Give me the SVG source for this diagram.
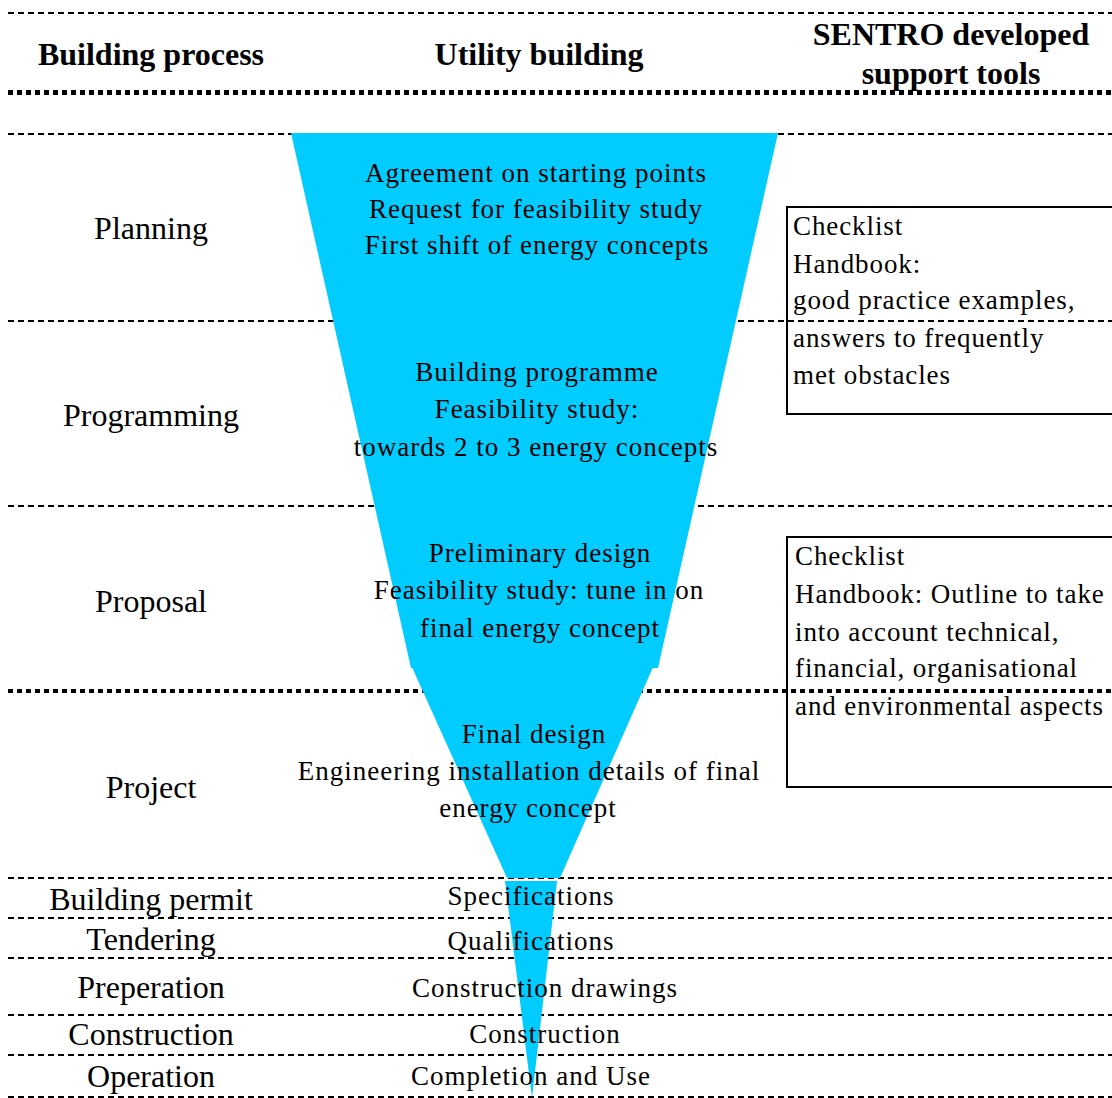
<svg xmlns="http://www.w3.org/2000/svg" width="1112" height="1098" viewBox="0 0 1112 1098">
<style>
text { font-family: "Liberation Serif", "Times New Roman", serif; fill: #000; }
.hdr { font-size: 32px; font-weight: bold; text-anchor: middle; }
.lbl { font-size: 32px; text-anchor: middle; }
.ft { font-size: 27px; letter-spacing: 1px; text-anchor: middle; }
.bt { font-size: 27px; letter-spacing: 0.9px; }
.thin { stroke: #000; stroke-width: 2.5; stroke-dasharray: 6 4; fill: none; shape-rendering: crispEdges; }
.thick { stroke: #000; stroke-width: 5; stroke-dasharray: 5 4; fill: none; shape-rendering: crispEdges; }
.funnel { fill: #00CCFF; stroke: none; }
.box { fill: none; stroke: #000; stroke-width: 2; }
</style>
<rect x="0" y="0" width="1112" height="1098" fill="#fff"/>
<g id="connectors">
  <line class="thin" x1="8" y1="13" x2="1112" y2="13"/>
  <line class="thick" x1="8" y1="92" x2="1112" y2="92"/>
  <line class="thin" x1="8" y1="134" x2="1112" y2="134"/>
  <line class="thin" x1="8" y1="321" x2="1112" y2="321"/>
  <line class="thin" x1="8" y1="506" x2="1112" y2="506"/>
  <line class="thick" x1="8" y1="691" x2="1112" y2="691" style="stroke-width:4"/>
  <line class="thin" x1="8" y1="878" x2="1112" y2="878"/>
  <line class="thin" x1="8" y1="918" x2="1112" y2="918"/>
  <line class="thin" x1="8" y1="958" x2="1112" y2="958"/>
  <line class="thin" x1="8" y1="1015" x2="1112" y2="1015"/>
  <line class="thin" x1="8" y1="1055" x2="1112" y2="1055"/>
  <line class="thin" x1="8" y1="1097" x2="1112" y2="1097"/>
</g>
<g id="funnel">
  <polygon class="funnel" points="291,133 778,133 658,668 411,668"/>
  <polygon class="funnel" points="411,665 654,665 560,878 507,878"/>
  <polygon class="funnel" points="505,881 557,881 532,1098"/>
</g>
<g id="headers">
  <text class="hdr" x="151" y="65">Building process</text>
  <text class="hdr" x="539" y="65">Utility building</text>
  <text class="hdr" x="951" y="45">SENTRO developed</text>
  <text class="hdr" x="951" y="84">support tools</text>
</g>
<g id="phase-planning">
  <text class="lbl" x="151" y="239">Planning</text>
  <text class="ft" x="536" y="182">Agreement on starting points</text>
  <text class="ft" x="536" y="218">Request for feasibility study</text>
  <text class="ft" x="537" y="254">First shift of energy concepts</text>
</g>
<g id="phase-programming">
  <text class="lbl" x="151" y="426">Programming</text>
  <text class="ft" x="537" y="381">Building programme</text>
  <text class="ft" x="537" y="418">Feasibility study:</text>
  <text class="ft" x="536" y="456">towards 2 to 3 energy concepts</text>
</g>
<g id="phase-proposal">
  <text class="lbl" x="151" y="612">Proposal</text>
  <text class="ft" x="540" y="562">Preliminary design</text>
  <text class="ft" x="539" y="599">Feasibility study: tune in on</text>
  <text class="ft" x="540" y="637">final energy concept</text>
</g>
<g id="phase-project">
  <text class="lbl" x="151" y="798">Project</text>
  <text class="ft" x="534" y="743">Final design</text>
  <text class="ft" x="529" y="780">Engineering installation details of final</text>
  <text class="ft" x="528" y="817">energy concept</text>
</g>
<g id="phase-permit">
  <text class="lbl" x="151" y="910">Building permit</text>
  <text class="ft" x="531" y="905">Specifications</text>
</g>
<g id="phase-tendering">
  <text class="lbl" x="151" y="950">Tendering</text>
  <text class="ft" x="531" y="950">Qualifications</text>
</g>
<g id="phase-preperation">
  <text class="lbl" x="151" y="998">Preperation</text>
  <text class="ft" x="545" y="997">Construction drawings</text>
</g>
<g id="phase-construction">
  <text class="lbl" x="151" y="1045">Construction</text>
  <text class="ft" x="545" y="1043">Construction</text>
</g>
<g id="phase-operation">
  <text class="lbl" x="151" y="1087">Operation</text>
  <text class="ft" x="531" y="1085">Completion and Use</text>
</g>
<g id="tool-box-1">
  <rect class="box" x="787" y="207" width="340" height="207"/>
  <text class="bt" x="793" y="235">Checklist</text>
  <text class="bt" x="793" y="273">Handbook:</text>
  <text class="bt" x="793" y="309">good practice examples,</text>
  <text class="bt" x="793" y="347">answers to frequently</text>
  <text class="bt" x="793" y="384">met obstacles</text>
</g>
<g id="tool-box-2">
  <rect class="box" x="787" y="537" width="340" height="250"/>
  <text class="bt" x="795" y="565">Checklist</text>
  <text class="bt" x="795" y="603">Handbook: Outline to take</text>
  <text class="bt" x="795" y="641">into account technical,</text>
  <text class="bt" x="795" y="677">financial, organisational</text>
  <text class="bt" x="795" y="715">and environmental aspects</text>
</g>
</svg>
